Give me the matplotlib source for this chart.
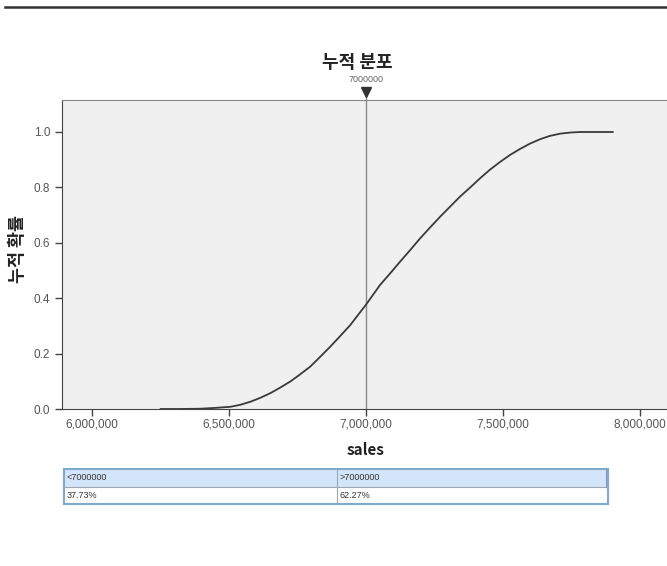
import matplotlib.pyplot as plt
from matplotlib.lines import Line2D
from matplotlib.patches import Rectangle
from matplotlib.ticker import FuncFormatter

plt.rcParams['font.family'] = ['Liberation Sans', 'Noto Sans CJK KR']

# 누적 분포 곡선
sales = [6250000, 6320000, 6395000, 6449000, 6505000, 6540000, 6577000, 6613000,
         6650000, 6686000, 6723000, 6759000, 6796000, 6832000, 6869000, 6905000,
         6942000, 7000000, 7051000, 7088000, 7124000, 7161000, 7197000, 7234000,
         7270000, 7307000, 7343000, 7380000, 7416000, 7452000, 7489000, 7525000,
         7562000, 7598000, 7635000, 7671000, 7708000, 7745000, 7781000, 7900000]
cum_prob = [0.0, 0.0, 0.001, 0.004, 0.008, 0.015, 0.026, 0.040,
            0.057, 0.077, 0.099, 0.125, 0.153, 0.188, 0.225, 0.263,
            0.303, 0.3773, 0.448, 0.490, 0.532, 0.574, 0.616, 0.656,
            0.694, 0.731, 0.767, 0.800, 0.833, 0.864, 0.892, 0.917,
            0.939, 0.958, 0.974, 0.986, 0.994, 0.998, 1.0, 1.0]

cut_value = 7000000
table_header = ['<7000000', '>7000000']
table_values = ['37.73%', '62.27%']

x_ticks = [6000000, 6500000, 7000000, 7500000, 8000000]
y_ticks = [0.0, 0.2, 0.4, 0.6, 0.8, 1.0]

W, H = 667, 566
fig = plt.figure(figsize=(W / 100, H / 100), dpi=100)

# 맨 위 가로줄
fig.add_artist(Line2D([5 / W, 1], [1 - 7 / H, 1 - 7 / H], color='#333333', lw=1.8))

ax = fig.add_axes([62 / W, (H - 409) / H, (673 - 62) / W, (409 - 100) / H])
ax.set_facecolor('#f0f0f0')
ax.plot(sales, cum_prob, color='#3a3a3a', lw=1.3, solid_joinstyle='round')

ax.set_xlim(5890000, 8120000)
ax.set_ylim(0, 1.1155)

# 기준선과 삼각형 표시
ax.plot([cut_value, cut_value], [0, 1.14], color='#8a8a8a', lw=1, clip_on=False, zorder=1)
ax.plot([cut_value], [1.146], marker='v', color='#333333', markersize=7, clip_on=False)
ax.text(cut_value, 1.19, str(cut_value), ha='center', va='center', fontsize=6.5, color='#666666')

ax.set_xticks(x_ticks)
ax.set_yticks(y_ticks)
ax.xaxis.set_major_formatter(FuncFormatter(lambda v, p: f'{int(v):,}'))
ax.yaxis.set_major_formatter(FuncFormatter(lambda v, p: f'{v:.1f}'))
ax.tick_params(length=5, width=1, color='#444444', labelsize=8.5, labelcolor='#555555')
ax.tick_params(axis='x', pad=2)

for s in ['left', 'bottom']:
    ax.spines[s].set_color('#444444')
ax.spines['top'].set_color('#888888')
ax.spines['right'].set_visible(False)

fig.text(357 / W, 1 - 62 / H, '누적 분포', ha='center', va='center',
         fontsize=13, fontweight='bold', family='Noto Sans CJK KR', color='#222222')
fig.text(18 / W, 1 - 249 / H, '누적 확률', ha='center', va='center', rotation=90,
         fontsize=12.5, fontweight='bold', family='Noto Sans CJK KR', color='#222222')
fig.text(366 / W, 1 - 450 / H, 'sales', ha='center', va='center',
         fontsize=11, fontweight='bold', family='Noto Sans CJK KR', color='#222222')

# 아래 표
tx = fig.add_axes([64 / W, (H - 504) / H, (608 - 64) / W, (504 - 469) / H])
tx.set_xlim(0, 1)
tx.set_ylim(0, 2)
tx.axis('off')
split = (337 - 64) / (608 - 64)
tx.add_patch(Rectangle((0, 1), 1, 1, facecolor='#d3e5f9', edgecolor='none'))
tx.plot([0, 1], [1, 1], color='#9aa8b8', lw=0.8)
tx.plot([split, split], [0, 2], color='#9aa8b8', lw=0.8)
tx.plot([0.997, 0.997], [1, 2], color='#8a9aab', lw=0.8)
tx.add_patch(Rectangle((0, 0), 1, 2, facecolor='none', edgecolor='#7ea9cf', lw=1.5, clip_on=False))
for i, (h, v) in enumerate(zip(table_header, table_values)):
    x0 = 0.004 if i == 0 else split + 0.004
    tx.text(x0, 1.5, h, ha='left', va='center', fontsize=6.5, color='#333333')
    tx.text(x0, 0.5, v, ha='left', va='center', fontsize=6.5, color='#333333')

fig.savefig('out.png', dpi=100)
